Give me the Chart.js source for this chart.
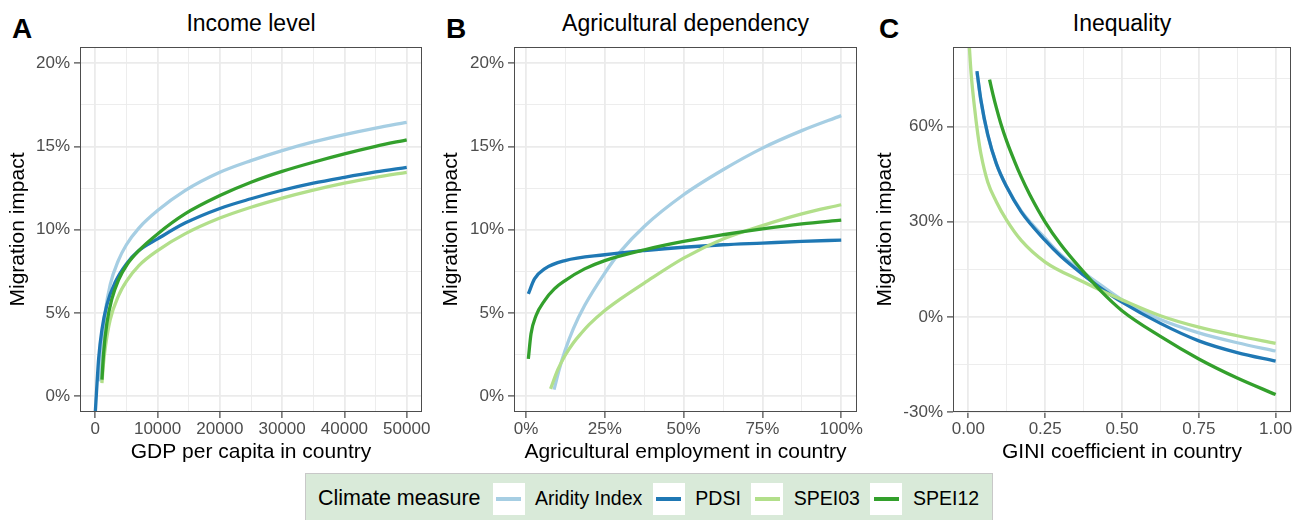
<!DOCTYPE html>
<html>
<head>
<meta charset="utf-8">
<script src="https://cdn.jsdelivr.net/npm/chart.js@4.4.1/dist/chart.umd.min.js"></script>
<style>
  body { margin: 0; width: 1306px; height: 520px; overflow: hidden; background: #fff; position: relative;
         font-family: "Liberation Sans", Arial, sans-serif; }
  canvas { position: absolute; top: 0; }
  .letter { position: absolute; top: 14.6px; font-size: 28px; line-height: 1; font-weight: bold; color: #000; }
  .ptitle { position: absolute; top: 12.2px; font-size: 23px; line-height: 1; text-align: center; color: #000; }
  #legend { position: absolute; left: 305px; top: 473px; width: 688px; height: 60px; box-sizing: border-box;
            background: #d9ead9; border: 1px solid #c8c8c8; display: flex; align-items: flex-start;
            padding: 9px 0 0 12px; }
  #legend .row { display: flex; align-items: center; height: 32px; }
  #legend .ltitle { font-size: 21.5px; line-height: 1; margin-right: 12px; }
  #legend .key { width: 32px; height: 32px; background: #fff; display: flex; align-items: center;
                 justify-content: center; margin-right: 10.5px; }
  #legend .key span { display: block; width: 25px; height: 4px; }
  #legend .lab { font-size: 19.5px; line-height: 1; margin-right: 10.5px; }
</style>
</head>
<body>
<div class="letter" style="left:12px">A</div>
<div class="letter" style="left:446px">B</div>
<div class="letter" style="left:879px">C</div>
<div class="ptitle" style="left:80px;width:342px">Income level</div>
<div class="ptitle" style="left:514px;width:343px">Agricultural dependency</div>
<div class="ptitle" style="left:953px;width:338px">Inequality</div>
<canvas id="chartA" width="440" height="470" style="left:0px"></canvas>
<canvas id="chartB" width="430" height="470" style="left:440px"></canvas>
<canvas id="chartC" width="436" height="470" style="left:870px"></canvas>
<div id="legend"><div class="row" id="legendRow"></div></div>

<script>
// Series names and colours (ggplot "Paired" palette)
const measures = ['Aridity Index', 'PDSI', 'SPEI03', 'SPEI12'];
const measureColors = ['#a6cee3', '#1f78b4', '#b2df8a', '#33a02c'];

// Panel A: GDP per capita -> migration impact (%)
const gdpAridity = [650, 1000, 1600, 2400, 3700, 5000, 7000, 10000, 14400, 20000, 25000, 30000, 35000, 40000, 45000, 50000];
const impGdpAridity = [0.9, 2.95, 5.05, 6.7, 8.15, 9.1, 10.1, 11.15, 12.35, 13.45, 14.15, 14.75, 15.27, 15.71, 16.1, 16.45];
const gdpPdsi = [0, 300, 550, 1070, 1870, 3200, 5000, 7000, 10000, 14400, 20000, 25000, 30000, 35000, 40000, 45000, 50000];
const impGdpPdsi = [-1.0, 0.9, 2.3, 4.0, 5.5, 6.85, 7.95, 8.75, 9.45, 10.4, 11.28, 11.86, 12.37, 12.8, 13.15, 13.47, 13.75];
const gdpSpei03 = [1070, 1300, 1600, 2400, 3740, 5080, 7000, 10000, 14400, 20000, 25000, 30000, 35000, 40000, 45000, 50000];
const impGdpSpei03 = [0.8, 1.9, 2.9, 4.6, 6.05, 6.95, 7.85, 8.75, 9.75, 10.7, 11.35, 11.9, 12.38, 12.8, 13.15, 13.45];
const gdpSpei12 = [1070, 1340, 1870, 2670, 3740, 5080, 7000, 10000, 14400, 20000, 25000, 30000, 35000, 40000, 45000, 50000];
const impGdpSpei12 = [1.0, 2.6, 4.4, 5.85, 7.0, 7.9, 8.75, 9.75, 10.95, 12.05, 12.85, 13.5, 14.05, 14.55, 15.0, 15.4];

// Panel B: agricultural employment (%) -> migration impact (%)
const agrAridity = [8.9, 10.6, 12.4, 15, 18.6, 25, 30, 37.5, 50, 62.5, 75, 87.5, 100];
const impAgrAridity = [0.4, 1.65, 2.75, 4.05, 5.45, 7.4, 8.7, 10.2, 12.1, 13.6, 14.9, 15.95, 16.85];
const agrPdsi = [0.75, 2.7, 5.9, 12.4, 25, 37.6, 50, 62.5, 75, 87.5, 100];
const impAgrPdsi = [6.15, 7.05, 7.65, 8.15, 8.5, 8.75, 8.95, 9.1, 9.2, 9.3, 9.38];
const agrSpei03 = [7.8, 10.1, 12.4, 15, 17.6, 20, 25, 30, 37.5, 50, 62.5, 75, 87.5, 100];
const impAgrSpei03 = [0.45, 1.6, 2.45, 3.2, 3.8, 4.3, 5.15, 5.85, 6.8, 8.3, 9.45, 10.25, 10.95, 11.5];
const agrSpei12 = [0.75, 1.6, 3.2, 5.9, 9, 12.4, 18.6, 25, 37.6, 50, 62.5, 75, 87.5, 100];
const impAgrSpei12 = [2.25, 3.75, 4.85, 5.75, 6.45, 6.95, 7.65, 8.15, 8.8, 9.3, 9.7, 10.05, 10.35, 10.58];

// Panel C: GINI coefficient -> migration impact (%)
const giniAridity = [0.028, 0.041, 0.063, 0.091, 0.125, 0.172, 0.25, 0.3, 0.375, 0.43, 0.5, 0.625, 0.75, 0.875, 1.0];
const impGiniAridity = [77.0, 67.9, 57.3, 48.3, 41.0, 33.4, 24.8, 19.7, 14.0, 10.1, 5.4, -0.8, -5.0, -8.1, -10.7];
const giniPdsi = [0.028, 0.041, 0.063, 0.091, 0.125, 0.172, 0.25, 0.3, 0.375, 0.43, 0.5, 0.625, 0.75, 0.875, 1.0];
const impGiniPdsi = [77.4, 68.2, 57.5, 48.3, 40.9, 33.1, 24.1, 19.2, 13.2, 9.2, 4.7, -2.0, -7.5, -11.2, -13.9];
const giniSpei03 = [0.0, 0.009, 0.02, 0.031, 0.041, 0.063, 0.091, 0.125, 0.172, 0.25, 0.375, 0.43, 0.5, 0.625, 0.75, 0.875, 1.0];
const impGiniSpei03 = [90, 76.6, 66, 57.4, 51.3, 42.5, 36.3, 30.4, 24.1, 17.3, 11.0, 8.4, 5.4, 0.4, -3.2, -5.9, -8.3];
const giniSpei12 = [0.069, 0.08, 0.091, 0.105, 0.125, 0.15, 0.172, 0.2, 0.25, 0.3, 0.375, 0.43, 0.5, 0.625, 0.75, 0.875, 1.0];
const impGiniSpei12 = [74.7, 70.1, 65.9, 61.1, 55.3, 49.1, 44.1, 38.5, 29.9, 22.9, 14.2, 8.3, 2.0, -6.1, -13.2, -19.2, -24.4];

// Tick positions (major labelled, minor grid only)
const gdpTicks = [0, 10000, 20000, 30000, 40000, 50000];
const gdpMinor = [5000, 15000, 25000, 35000, 45000];
const agrTicks = [0, 25, 50, 75, 100];
const agrMinor = [12.5, 37.5, 62.5, 87.5];
const giniTicks = [0, 0.25, 0.5, 0.75, 1];
const giniMinor = [0.125, 0.375, 0.625, 0.875];
const impTicksAB = [0, 5, 10, 15, 20];
const impMinorAB = [2.5, 7.5, 12.5, 17.5];
const impTicksC = [-30, 0, 30, 60];
const impMinorC = [-15, 15, 45, 75];

const FONT = '"Liberation Sans", Arial, sans-serif';

const panelBorder = {
    id: 'panelBorder',
    afterDatasetsDraw(chart) {
        const { ctx, chartArea: a } = chart;
        ctx.save();
        ctx.strokeStyle = '#4d4d4d';
        ctx.lineWidth = 1;
        ctx.strokeRect(a.left + 0.5, a.top + 0.5, a.right - a.left - 1, a.bottom - a.top - 1);
        ctx.restore();
    }
};

function axis(major, minor, min, max, fmt, title, isX, size, titlePad) {
    const all = major.concat(minor).sort((a, b) => a - b);
    return {
        type: 'linear',
        min: min,
        max: max,
        afterBuildTicks: s => { s.ticks = all.map(v => ({ value: v })); },
        afterFit: s => {
            if (isX) s.height = size; else s.width = size;
            s.paddingLeft = 0; s.paddingRight = 0; s.paddingTop = 0; s.paddingBottom = 0;
        },
        ticks: {
            autoSkip: false,
            maxRotation: 0,
            padding: isX ? 1 : 4,
            color: '#4d4d4d',
            font: { family: FONT, size: 17 },
            callback: v => major.includes(v) ? fmt(v) : ''
        },
        grid: {
            color: '#ebebeb',
            lineWidth: ctx => major.includes(ctx.tick.value) ? 1.8 : 0.9,
            tickLength: 6,
            tickWidth: 1.1,
            tickColor: ctx => major.includes(ctx.tick.value) ? '#333333' : 'rgba(0,0,0,0)'
        },
        border: { display: false },
        title: {
            display: true,
            text: title,
            color: '#000',
            font: { family: FONT, size: 21, lineHeight: 1 },
            padding: isX ? { top: 0, bottom: titlePad } : { top: titlePad, bottom: 0 }
        }
    };
}

function makePanel(id, xs, ys, xAxis, yAxis, rightPad) {
    new Chart(document.getElementById(id), {
        type: 'line',
        data: {
            datasets: measures.map((m, i) => ({
                label: m,
                data: xs[i].map((v, j) => ({ x: v, y: ys[i][j] })),
                borderColor: measureColors[i],
                borderWidth: 3.3,
                pointRadius: 0,
                cubicInterpolationMode: 'monotone',
                order: measures.length - i,
                clip: 0
            }))
        },
        options: {
            responsive: false,
            animation: false,
            devicePixelRatio: 1,
            layout: { padding: { top: 47, right: rightPad, left: 0, bottom: 0 } },
            plugins: { legend: { display: false }, tooltip: { enabled: false } },
            scales: { x: xAxis, y: yAxis }
        },
        plugins: [panelBorder]
    });
}

const pct = v => v + '%';

makePanel('chartA',
    [gdpAridity, gdpPdsi, gdpSpei03, gdpSpei12],
    [impGdpAridity, impGdpPdsi, impGdpSpei03, impGdpSpei12],
    axis(gdpTicks, gdpMinor, -2450, 52450, v => String(v), 'GDP per capita in country', true, 58, 7.5),
    axis(impTicksAB, impMinorAB, -0.94, 20.97, pct, 'Migration impact', false, 80, 7.5),
    18);

makePanel('chartB',
    [agrAridity, agrPdsi, agrSpei03, agrSpei12],
    [impAgrAridity, impAgrPdsi, impAgrSpei03, impAgrSpei12],
    axis(agrTicks, agrMinor, -3.8, 105, pct, 'Agricultural employment in country', true, 58, 7.5),
    axis(impTicksAB, impMinorAB, -0.94, 20.97, pct, 'Migration impact', false, 74, 1.2),
    13);

makePanel('chartC',
    [giniAridity, giniPdsi, giniSpei03, giniSpei12],
    [impGiniAridity, impGiniPdsi, impGiniSpei03, impGiniSpei12],
    axis(giniTicks, giniMinor, -0.05, 1.05, v => v.toFixed(2), 'GINI coefficient in country', true, 58, 7.5),
    axis(impTicksC, impMinorC, -29.9, 85, pct, 'Migration impact', false, 83, 5),
    15);

// Legend built from the series names and colours
const row = document.getElementById('legendRow');
const lt = document.createElement('div');
lt.className = 'ltitle';
lt.textContent = 'Climate measure';
row.appendChild(lt);
measures.forEach((m, i) => {
    const key = document.createElement('div');
    key.className = 'key';
    key.innerHTML = `<span style="background:${measureColors[i]}"></span>`;
    row.appendChild(key);
    const lab = document.createElement('div');
    lab.className = 'lab';
    lab.textContent = m;
    row.appendChild(lab);
});
</script>
</body>
</html>
